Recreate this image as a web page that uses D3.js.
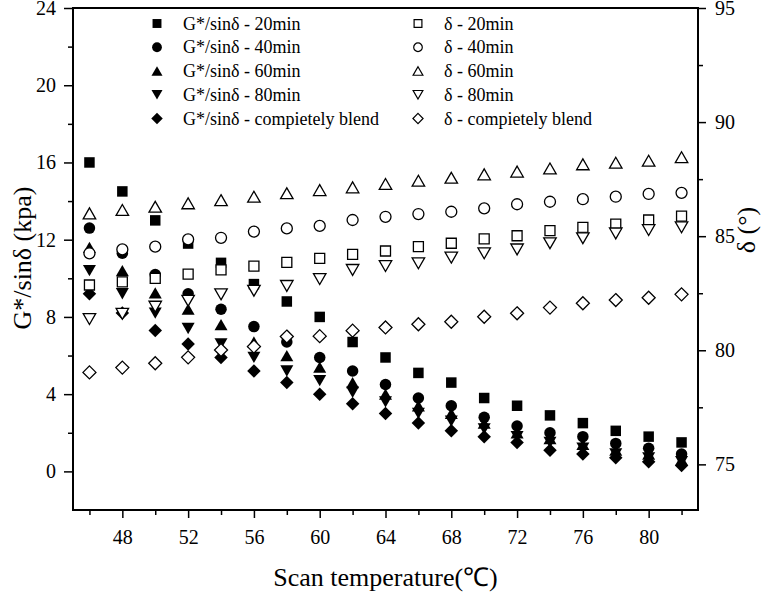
<!DOCTYPE html>
<html>
<head>
<meta charset="utf-8">
<style>
body { margin: 0; background: #fff; }
svg { font-family: "Liberation Serif", "Times New Roman", serif; }
.axis line { stroke: #000; stroke-width: 1.5px; }
.axis path { display: none; }
.axis text { font-family: "Liberation Serif", serif; font-size: 20px; fill: #000; }
.frame { fill: none; stroke: #000; stroke-width: 2px; }
.title { font-size: 26px; fill: #000; }
.legend text { font-size: 18px; fill: #000; }
</style>
</head>
<body>
<svg width="771" height="592"></svg>
<script src="https://d3js.org/d3.v7.min.js"></script>
<script>

// scan temperature (C)
var temps = [46, 48, 50, 52, 54, 56, 58, 60, 62, 64, 66, 68, 70, 72, 74, 76, 78, 80, 82];

// G*/sin(delta), kPa - left axis
var g20    = [16.0, 14.5, 13.0, 11.8, 10.8, 9.7, 8.8, 8.0, 6.7, 5.9, 5.1, 4.6, 3.8, 3.4, 2.9, 2.5, 2.1, 1.8, 1.5];
var g40    = [12.6, 11.3, 10.2, 9.2, 8.4, 7.5, 6.7, 5.9, 5.2, 4.5, 3.8, 3.4, 2.8, 2.35, 2.0, 1.8, 1.45, 1.2, 0.9];
var g60    = [11.6, 10.4, 9.25, 8.4, 7.6, 6.7, 6.0, 5.4, 4.6, 4.0, 3.4, 3.0, 2.5, 2.0, 1.7, 1.4, 1.1, 0.9, 0.6];
var g80    = [10.4, 9.2, 8.2, 7.4, 6.6, 5.9, 5.2, 4.7, 4.1, 3.6, 3.0, 2.6, 2.2, 1.8, 1.5, 1.2, 0.9, 0.7, 0.5];
var gBlend = [9.2, 8.2, 7.3, 6.6, 5.9, 5.2, 4.6, 4.0, 3.5, 3.0, 2.5, 2.1, 1.8, 1.5, 1.1, 0.9, 0.7, 0.5, 0.3];

// phase angle delta, degrees - right axis
var d20    = [82.86, 83.0, 83.15, 83.34, 83.52, 83.69, 83.85, 84.03, 84.2, 84.35, 84.54, 84.69, 84.88, 85.02, 85.24, 85.39, 85.53, 85.71, 85.88];
var d40    = [84.25, 84.42, 84.54, 84.86, 84.93, 85.2, 85.34, 85.45, 85.71, 85.85, 85.97, 86.07, 86.22, 86.4, 86.51, 86.62, 86.73, 86.85, 86.9];
var d60    = [86.0, 86.15, 86.29, 86.44, 86.58, 86.73, 86.88, 87.02, 87.14, 87.29, 87.43, 87.56, 87.71, 87.83, 87.97, 88.15, 88.22, 88.31, 88.46];
var d80    = [81.37, 81.6, 81.91, 82.17, 82.45, 82.61, 82.82, 83.12, 83.52, 83.69, 83.81, 84.06, 84.25, 84.42, 84.69, 84.91, 85.12, 85.27, 85.39];
var dBlend = [79.03, 79.24, 79.43, 79.69, 80.01, 80.16, 80.6, 80.62, 80.86, 81.0, 81.14, 81.25, 81.47, 81.62, 81.87, 82.06, 82.2, 82.3, 82.45];

var legendLabels = [
  "G*/sinδ - 20min", "G*/sinδ - 40min", "G*/sinδ - 60min", "G*/sinδ - 80min", "G*/sinδ - compietely blend",
  "δ - 20min", "δ - 40min", "δ - 60min", "δ - 80min", "δ - compietely blend"
];

var xTicks = [48, 52, 56, 60, 64, 68, 72, 76, 80];
var xMinor = [46, 50, 54, 58, 62, 66, 70, 74, 78, 82];
var yLeftTicks = [0, 4, 8, 12, 16, 20, 24];
var yLeftMinor = [2, 6, 10, 14, 18, 22];
var yRightTicks = [75, 80, 85, 90, 95];
var yRightMinor = [77.5, 82.5, 87.5, 92.5];

var svg = d3.select("svg"),
    margin = {top: 8, right: 73, bottom: 82, left: 73},
    width = +svg.attr("width") - margin.left - margin.right,
    height = +svg.attr("height") - margin.top - margin.bottom;

var x = d3.scaleLinear().domain([45, 83]).range([0, width]);
var yL = d3.scaleLinear().domain([-2, 24]).range([height, 0]);
var yR = d3.scaleLinear().domain([73, 95]).range([height, 0]);

// marker shapes, s = width in px, centred on bounding box
function shapePath(shape, s) {
  var p = d3.path(), h = s / 2;
  if (shape == "square") {
    p.rect(-h, -h, s, s);
  } else if (shape == "circle") {
    p.arc(0, 0, h, 0, 2 * Math.PI);
  } else if (shape == "up" || shape == "down") {
    var th = s * 0.87 / 2, k = shape == "up" ? 1 : -1;
    p.moveTo(0, -th * k); p.lineTo(h, th * k); p.lineTo(-h, th * k); p.closePath();
  } else if (shape == "diamond") {
    p.moveTo(0, -h); p.lineTo(h, 0); p.lineTo(0, h); p.lineTo(-h, 0); p.closePath();
  }
  return p.toString();
}

var series = [
  {values: g20,    axis: yL, shape: "square",  size: 10.5, fill: true},
  {values: g40,    axis: yL, shape: "circle",  size: 11.5, fill: true},
  {values: g60,    axis: yL, shape: "up",      size: 13,   fill: true},
  {values: g80,    axis: yL, shape: "down",    size: 13,   fill: true},
  {values: gBlend, axis: yL, shape: "diamond", size: 13.5, fill: true},
  {values: d20,    axis: yR, shape: "square",  size: 10,   fill: false},
  {values: d40,    axis: yR, shape: "circle",  size: 11,   fill: false},
  {values: d60,    axis: yR, shape: "up",      size: 12.5, fill: false},
  {values: d80,    axis: yR, shape: "down",    size: 12.5, fill: false},
  {values: dBlend, axis: yR, shape: "diamond", size: 13,   fill: false}
];
series.forEach(function(s, i) { s.label = legendLabels[i]; });

var g = svg.append("g")
    .attr("transform", "translate(" + margin.left + "," + margin.top + ")");

// axes
g.append("g").attr("class", "axis").attr("transform", "translate(0," + height + ")")
  .call(d3.axisBottom(x).tickValues(xTicks).tickSize(8).tickPadding(12).tickFormat(d3.format("d")));
g.append("g").attr("class", "axis").attr("transform", "translate(0," + height + ")")
  .call(d3.axisBottom(x).tickValues(xMinor).tickSize(5).tickFormat(""));

g.append("g").attr("class", "axis")
  .call(d3.axisLeft(yL).tickValues(yLeftTicks).tickSize(9).tickPadding(8).tickFormat(d3.format("d")));
g.append("g").attr("class", "axis")
  .call(d3.axisLeft(yL).tickValues(yLeftMinor).tickSize(5).tickFormat(""));

g.append("g").attr("class", "axis").attr("transform", "translate(" + width + ",0)")
  .call(d3.axisRight(yR).tickValues(yRightTicks).tickSize(8).tickPadding(9).tickFormat(d3.format("d")));
g.append("g").attr("class", "axis").attr("transform", "translate(" + width + ",0)")
  .call(d3.axisRight(yR).tickValues(yRightMinor).tickSize(5).tickFormat(""));

g.append("rect").attr("class", "frame")
  .attr("width", width).attr("height", height);

// points: filled series first, open ones on top with white fill
series.forEach(function(s) {
  g.append("g").selectAll("path")
    .data(s.values)
    .enter().append("path")
    .attr("transform", function(d, i) { return "translate(" + x(temps[i]) + "," + s.axis(d) + ")"; })
    .attr("d", shapePath(s.shape, s.size))
    .attr("fill", s.fill ? "#000" : "#fff")
    .attr("stroke", "#000")
    .attr("stroke-width", s.fill ? 0 : 1.3);
});

// titles
svg.append("text").attr("class", "title")
  .attr("x", margin.left + width / 2).attr("y", 586)
  .attr("text-anchor", "middle")
  .text("Scan temperature(℃)");

svg.append("text").attr("class", "title")
  .attr("transform", "translate(31," + (margin.top + 250) + ") rotate(-90)")
  .attr("text-anchor", "middle")
  .text("G*/sinδ (kpa)");

svg.append("text").attr("class", "title")
  .attr("transform", "translate(755," + (margin.top + 222) + ") rotate(-90)")
  .attr("text-anchor", "middle")
  .text("δ (°)");

// legend, two columns
var legend = svg.append("g").attr("class", "legend");
var leg = legend.selectAll("g")
  .data(series)
  .enter().append("g")
  .attr("transform", function(d, i) {
    var col = i < 5 ? 0 : 1, row = i % 5;
    return "translate(" + (col ? 418 : 157) + "," + (23.5 + row * 23.75) + ")";
  });

leg.append("path")
  .attr("d", function(d) { return shapePath(d.shape, d.fill ? d.size * 0.85 : d.size * 0.78); })
  .attr("fill", function(d) { return d.fill ? "#000" : "#fff"; })
  .attr("stroke", "#000")
  .attr("stroke-width", function(d) { return d.fill ? 0 : 1.2; });

leg.append("text")
  .attr("x", 26)
  .attr("y", 6)
  .text(function(d) { return d.label; });

</script>
</body>
</html>
